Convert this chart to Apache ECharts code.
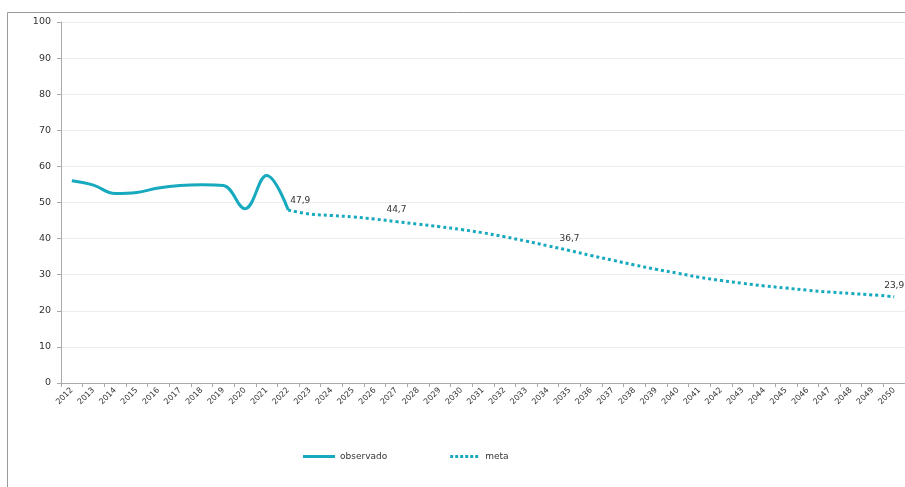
<!DOCTYPE html>
<html><head><meta charset="utf-8">
<script src="https://cdn.jsdelivr.net/npm/echarts@6/dist/echarts.min.js"></script>
<style>html,body{margin:0;padding:0;background:#fff}#c{width:905px;height:487px}</style>
</head><body><div id="c"></div>
<script>
var years = [];
for (var y = 2012; y <= 2050; y++) years.push(String(y));
var observado = [56.0, 54.8, 52.5, 52.8, 54.0, 54.7, 54.9, 54.7, 48.3, 57.5, 47.9];
var meta = [47.9, 46.8, 46.4, 46.0, 45.4, 44.7, 44.0, 43.3, 42.5, 41.6, 40.5, 39.3, 38.0, 36.7, 35.3, 34.0, 32.7, 31.5, 30.4, 29.3, 28.4, 27.6, 26.9, 26.3, 25.7, 25.2, 24.8, 24.4, 23.9];
var labelYears = ['2022', '2027', '2035', '2050'];
var yTicks = [0, 10, 20, 30, 40, 50, 60, 70, 80, 90, 100];

var color = '#17a9be';
var obsData = years.map(function (yr, i) { return i < observado.length ? observado[i] : null; });
var metaStart = years.length - meta.length;
var metaData = years.map(function (yr, i) {
  if (i < metaStart) return null;
  var v = meta[i - metaStart];
  if (labelYears.indexOf(yr) >= 0) {
    var lab = { show: true };
    if (i === metaStart) lab.offset = [12, 0];
    return { value: v, label: lab };
  }
  return v;
});

var dotIcon = 'path://M0,0h3v3h-3z M5,0h3v3h-3z M10,0h3v3h-3z M15,0h3v3h-3z M20,0h3v3h-3z M25,0h3v3h-3z';

var chart = echarts.init(document.getElementById('c'), null, { renderer: 'canvas' });
chart.setOption({
  animation: false,
  textStyle: { fontFamily: 'DejaVu Sans' },
  graphic: [{
    type: 'polyline', silent: true,
    shape: { points: [[7.5, 487], [7.5, 12.5], [905, 12.5]] },
    style: { stroke: '#9a9a9a', lineWidth: 1, fill: null }
  }],
  grid: { left: 61, top: 22, right: -2, bottom: 104 },
  legend: {
    top: 447, left: 298, itemGap: 63, itemWidth: 32, itemHeight: 3,
    textStyle: { fontSize: 9, color: '#333', fontFamily: 'DejaVu Sans' },
    data: [{ name: 'observado', icon: 'rect' }, { name: 'meta', icon: dotIcon }]
  },
  xAxis: {
    type: 'category', data: years, boundaryGap: true,
    axisLine: { lineStyle: { color: '#aaa' } },
    axisTick: { show: true, length: 4, lineStyle: { color: '#aaa' } },
    axisLabel: { rotate: 45, fontSize: 8, color: '#333', interval: 0, margin: 6 }
  },
  yAxis: {
    type: 'value', min: 0, max: 100, interval: 10,
    axisLine: { show: true, lineStyle: { color: '#aaa' } },
    axisTick: { show: true, length: 4, lineStyle: { color: '#aaa' } },
    splitLine: { lineStyle: { color: '#ececec' } },
    axisLabel: { fontSize: 9.5, color: '#333', margin: 10,
      formatter: function (v) { return yTicks.indexOf(v) >= 0 ? String(v) : ''; } }
  },
  series: [{
    name: 'observado', type: 'line', data: obsData, smooth: 0.4,
    showSymbol: false, symbol: 'none',
    lineStyle: { color: color, width: 3 }, itemStyle: { color: color }
  }, {
    name: 'meta', type: 'line', data: metaData, smooth: 0.4,
    showSymbol: true, symbol: 'circle', symbolSize: 0,
    lineStyle: { color: color, width: 3, type: [3, 3] }, itemStyle: { color: color },
    label: {
      show: false, position: 'top', offset: [0, -2], fontSize: 9, color: '#333',
      formatter: function (p) { return String(p.value).replace('.', ','); }
    }
  }]
});
</script></body></html>
